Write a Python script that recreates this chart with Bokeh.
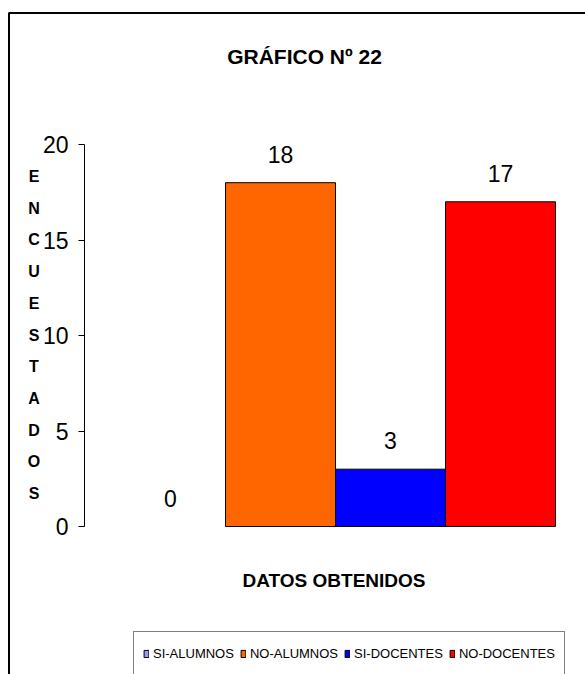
from bokeh.plotting import figure
from bokeh.models import (ColumnDataSource, LabelSet, Label, Legend, LegendItem,
                          BoxAnnotation, FixedTicker, Range1d)
from bokeh.core.properties import value
from bokeh.embed import file_html
from bokeh.resources import INLINE

# ---- data ----
categories = ["SI-ALUMNOS", "NO-ALUMNOS", "SI-DOCENTES", "NO-DOCENTES"]
values = [0, 18, 3, 17]
colors = ["#9999FF", "#FF6600", "#0000FF", "#FF0000"]
y_ticks = [0, 5, 10, 15, 20]
title_text = "GRÁFICO Nº 22"
x_title = "DATOS OBTENIDOS"
y_title_letters = list("ENCUESTADOS")

FONT = "Liberation Sans"
W, H = 585, 674

# layout (pixels of the canvas)
PX_X = 110.0          # pixels per category
PX_Y = (526 - 144) / 20.0  # pixels per survey unit
X0 = 0.5 - 115 / PX_X  # data x at canvas left
Y0 = -(H - 526) / PX_Y  # data y at canvas bottom

xs = [i + 1 for i in range(len(categories))]
src = ColumnDataSource(dict(
    x=xs,
    value=values,
    cat=categories,
    color=colors,
    label=[str(v) for v in values],
    line_alpha=[1.0 if v > 0 else 0.0 for v in values],
))

p = figure(width=W, height=H, output_backend="svg", toolbar_location=None,
           x_range=Range1d(X0, X0 + W / PX_X),
           y_range=Range1d(Y0, Y0 + H / PX_Y),
           x_axis_location=None,
           min_border_left=0, min_border_right=0,
           min_border_top=0, min_border_bottom=0)
p.outline_line_color = None
p.xgrid.visible = False
p.ygrid.visible = False
p.background_fill_color = "white"
p.border_fill_color = "white"

yax = p.yaxis[0]
yax.fixed_location = 0.5 - 31 / PX_X
yax.bounds = (y_ticks[0], y_ticks[-1])
yax.ticker = FixedTicker(ticks=y_ticks)
yax.minor_tick_line_color = None
yax.major_tick_in = 0
yax.major_tick_out = 6
yax.major_label_standoff = 10
yax.axis_line_color = "black"
yax.major_tick_line_color = "black"
yax.major_label_text_font = FONT
yax.major_label_text_font_size = "23px"
yax.major_label_text_color = "black"

# bars
p.vbar(x="x", top="value", bottom=0, width=1.0, source=src,
       fill_color="color", line_color="black", line_width=1,
       line_alpha="line_alpha")
# renderer used only for legend swatches
legend_r = p.vbar(x="x", top="value", bottom=0, width=1.0, source=src,
                  fill_color="color", line_color="black", line_width=1,
                  visible=False)

# value labels
labels = LabelSet(x="x", y="value", text="label", source=src,
                  text_align="center", text_baseline="alphabetic",
                  y_offset=20, text_font=value(FONT),
                  text_font_size=value("23px"), text_color="black")
p.add_layout(labels)

# title
p.add_layout(Label(x=304, y=H - 56, x_units="screen", y_units="screen",
                   text=title_text, text_align="center", text_baseline="middle",
                   text_font=FONT, text_font_style="bold",
                   text_font_size="21px", text_color="black"))
# x title
p.add_layout(Label(x=333.5, y=H - 580, x_units="screen", y_units="screen",
                   text=x_title, text_align="center", text_baseline="middle",
                   text_font=FONT, text_font_style="bold",
                   text_font_size="19px", text_color="black"))
# y title stacked letters
for i, ch in enumerate(y_title_letters):
    p.add_layout(Label(x=33.5, y=H - (176 + 31.7 * i), x_units="screen",
                       y_units="screen", text=ch, text_align="center",
                       text_baseline="middle", text_font=FONT,
                       text_font_style="bold", text_font_size="16px",
                       text_color="black"))

# chart area border
p.add_layout(BoxAnnotation(left=8.5, right=W + 100, top=H - 12.5, bottom=-100,
                           left_units="screen", right_units="screen",
                           top_units="screen", bottom_units="screen",
                           fill_alpha=0, line_color="black", line_alpha=1,
                           line_width=2))

legend = Legend(items=[LegendItem(label=c, renderers=[legend_r], index=i)
                       for i, c in enumerate(categories)],
                orientation="horizontal", location=(133, -1),
                glyph_width=6, glyph_height=9, label_standoff=4, spacing=6,
                padding=9, margin=0, label_height=24,
                border_line_color="black", border_line_width=1,
                background_fill_color="white", background_fill_alpha=1,
                inactive_fill_alpha=0,
                label_text_font=FONT, label_text_font_size="13px",
                label_text_color="black")
p.add_layout(legend)

open("out.html", "w").write(file_html(p, INLINE))
